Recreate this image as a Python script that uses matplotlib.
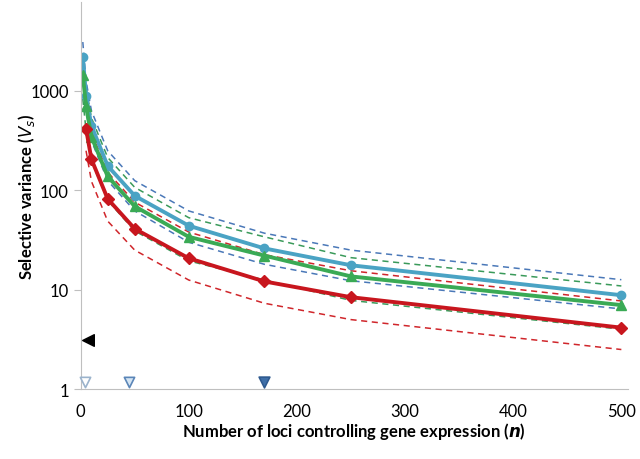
import matplotlib
matplotlib.use("Agg")
import matplotlib.pyplot as plt

plt.rcParams['font.family'] = ['Lato', 'DejaVu Sans']

# number of loci
n_bg = [2, 5, 10, 25, 50, 100, 170, 250, 500]
n_red = [5, 10, 25, 50, 100, 170, 250, 500]

# selective variance
blue = [2200, 890, 445, 176, 88, 44, 26, 17.6, 8.8]
blue_hi = [3100, 1260, 630, 250, 125, 62, 37, 25, 12.6]
blue_lo = [1550, 630, 315, 125, 62, 30, 18, 12.3, 6.4]

green = [1450, 700, 345, 138, 69, 34, 22, 13.6, 7.0]
green_hi = [2250, 1080, 535, 214, 107, 53, 34, 21, 10.9]
green_lo = [830, 400, 197, 79, 39, 19.5, 12.5, 7.8, 4.0]

red = [415, 205, 82, 41, 20.7, 12.1, 8.4, 4.15]
red_hi = [770, 380, 152, 76, 38, 22.5, 15.5, 7.7]
red_lo = [250, 123, 49, 25, 12.5, 7.3, 5.0, 2.5]

# markers along the bottom
tri_n = [4, 45, 170]
tri_y = [1.17, 1.17, 1.17]
arrow_n = [7]
arrow_y = [3.1]

c_blue, c_green, c_red = "#4aa3c4", "#3aaa55", "#c8161e"
d_blue, d_green, d_red = "#4a78b8", "#3a9a5a", "#d0262b"

fig = plt.figure(figsize=(6.4, 4.6), dpi=100)
ax = fig.add_axes([0.126, 0.152, 0.855, 0.841])

for y in (blue_hi, blue_lo):
    ax.plot(n_bg, y, "--", color=d_blue, lw=1.1, dashes=(4, 3))
for y in (green_hi, green_lo):
    ax.plot(n_bg, y, "--", color=d_green, lw=1.1, dashes=(4, 3))
for y in (red_hi, red_lo):
    ax.plot(n_red, y, "--", color=d_red, lw=1.1, dashes=(4, 3))

ax.plot(n_bg, blue, "-o", color=c_blue, lw=2.8, ms=6)
ax.plot(n_bg, green, "-^", color=c_green, lw=2.8, ms=6.5)
ax.plot(n_red, red, "-D", color=c_red, lw=2.8, ms=6)

ax.scatter(tri_n[0], tri_y[0], marker="v", s=55, facecolor="white", edgecolor="#9bb3cc", lw=1.2, zorder=5, clip_on=False)
ax.scatter(tri_n[1], tri_y[1], marker="v", s=55, facecolor="#d5e5f3", edgecolor="#5b86b8", lw=1.2, zorder=5, clip_on=False)
ax.scatter(tri_n[2], tri_y[2], marker="v", s=60, facecolor="#3f6fa8", edgecolor="#2f5a90", lw=1.2, zorder=5, clip_on=False)
ax.scatter(arrow_n, arrow_y, marker="<", s=70, color="black", zorder=5, clip_on=False)

ax.set_yscale("log")
ax.set_ylim(1, 7800)
ax.set_xlim(0, 506)
ax.set_yticks([1, 10, 100, 1000])
ax.set_yticklabels(["1", "10", "100", "1000"])
ax.minorticks_off()
ax.set_xticks([0, 100, 200, 300, 400, 500])

for s in ("top", "right"):
    ax.spines[s].set_visible(False)
for s in ("left", "bottom"):
    ax.spines[s].set_color("#bfbfbf")
ax.tick_params(axis="y", colors="#bfbfbf", labelcolor="black", length=5, labelsize=12)
ax.tick_params(axis="x", length=0, labelcolor="black", labelsize=12, pad=10)

ax.set_xlabel(r"Number of loci controlling gene expression ($\boldsymbol{n}$)", fontsize=12, fontweight="bold", labelpad=1)
ax.set_ylabel(r"Selective variance ($\mathbf{\mathit{V_s}}$)", fontsize=12, fontweight="bold", labelpad=-5)

fig.savefig("out.png", dpi=100)
